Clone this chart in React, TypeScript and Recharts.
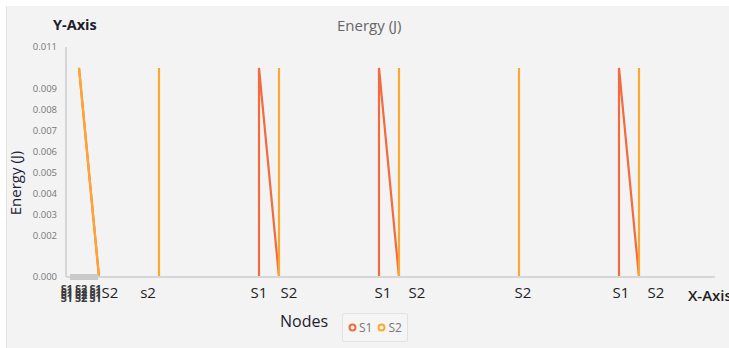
import { Line, LineChart, XAxis, YAxis } from "recharts";

// node positions (x) and energy values (J)
const s1X = [0, 1, 9, 9, 10, 15, 15, 16, 27, 27, 28, 31];
const s1Y = [0.01, 0, 0, 0.01, 0, 0, 0.01, 0, 0, 0.01, 0, 0];

const s2X = [0, 1, 4, 4, 4, 10, 10, 10, 16, 16, 16, 22, 22, 22, 28, 28, 28, 31];
const s2Y = [0.01, 0, 0, 0.01, 0, 0, 0.01, 0, 0, 0.01, 0, 0, 0.01, 0, 0, 0.01, 0, 0];

const xTickPos = [0.1, 1.55, 3.45, 9, 10.5, 15.2, 16.9, 22.2, 27.1, 28.85];
const xTickLabels = ["S1 S2 S1", "S2", "s2", "S1", "S2", "S1", "S2", "S2", "S1", "S2"];
const yTicks = [0, 0.002, 0.003, 0.004, 0.005, 0.006, 0.007, 0.008, 0.009, 0.011];

const seriesNames = ["S1", "S2"];
const seriesColors = ["#f26a3d", "#ffa62e"];

const FONT = "'Open Sans', 'Noto Sans', sans-serif";

const s1Data = s1X.map((x, i) => ({ x, y: s1Y[i] }));
const s2Data = s2X.map((x, i) => ({ x, y: s2Y[i] }));

function NodeTick(props: any) {
  const { x, y, payload } = props;
  const label = xTickLabels[payload.index] ?? "";
  if (payload.index === 0) {
    // the first node labels overlap into an unreadable block
    return (
      <g>
        <rect x={x - 11} y={y - 11} width={28} height={6} fill="#c9c9c9" />
        {[0, 3, 6, 9].map((d) => (
          <text key={d} x={x} y={y + 8 + d} textAnchor="middle" fontSize={11} fontWeight={700}
            fontFamily={FONT} fill="#3c3c3c" letterSpacing={-0.3}>
            {label}
          </text>
        ))}
      </g>
    );
  }
  return (
    <text x={x} y={y + 13} textAnchor="middle" fontSize={15} fontFamily={FONT} fill="#1f1f1f">
      {label}
    </text>
  );
}

function LegendBox() {
  return (
    <div style={{ display: "flex", alignItems: "center", gap: 5, padding: "5px 5px", border: "1px solid #e2e2e2",
      borderRadius: 2, background: "#f5f5f5", fontFamily: FONT, fontSize: 12, color: "#777" }}>
      {seriesNames.map((n, i) => (
        <span key={n} style={{ display: "flex", alignItems: "center", gap: 2 }}>
          <svg width={9} height={9}>
            <circle cx={4.5} cy={4.5} r={3} fill="none" stroke={seriesColors[i]} strokeWidth={2} />
          </svg>
          {n}
        </span>
      ))}
    </div>
  );
}

export default function App() {
  return (
    <div style={{ position: "relative", width: 729, height: 348, background: "#fff", overflow: "hidden" }}>
      <style>{"body{margin:0}"}</style>
      <div style={{ position: "absolute", left: 6, top: 6, right: 0, bottom: 0, background: "#f3f3f3",
        borderLeft: "1px solid #e3e3e3" }} />
      <div style={{ position: "absolute", left: 53, top: 15, fontFamily: FONT, fontSize: 14.5, fontWeight: 700, color: "#1d1d2b" }}>
        Y-Axis
      </div>
      <div style={{ position: "absolute", left: 337, top: 15, fontFamily: FONT, fontSize: 15, color: "#666" }}>
        Energy (J)
      </div>
      <div style={{ position: "absolute", left: 15, top: 183, transform: "translate(-50%, -50%) rotate(-90deg)",
        fontFamily: FONT, fontSize: 15, color: "#1d1d3a", whiteSpace: "nowrap" }}>
        Energy (J)
      </div>
      <div style={{ position: "absolute", left: 0, top: 0 }}>
        <LineChart width={729} height={348} margin={{ top: 47, right: 14, bottom: 41, left: 8 }}>
          <XAxis type="number" dataKey="x" domain={[-0.65, 31.8]} ticks={xTickPos} interval={0}
            tick={<NodeTick />} tickLine={false} axisLine={{ stroke: "#d6d6d6", strokeWidth: 2 }} height={30} />
          <YAxis type="number" domain={[0, 0.011]} ticks={yTicks} interval={0} width={58}
            tickFormatter={(v: number) => v.toFixed(3)} tickLine={false} tickSize={6} tickMargin={3}
            tick={{ fontSize: 9.5, fill: "#777", fontFamily: FONT }} axisLine={{ stroke: "#d6d6d6", strokeWidth: 2 }} />
          <Line data={s1Data} dataKey="y" name="S1" type="linear" stroke={seriesColors[0]} strokeWidth={2.2}
            dot={false} isAnimationActive={false} />
          <Line data={s2Data} dataKey="y" name="S2" type="linear" stroke={seriesColors[1]} strokeWidth={2.2}
            dot={false} isAnimationActive={false} />
        </LineChart>
      </div>
      <div style={{ position: "absolute", left: 688, top: 285, fontFamily: FONT, fontSize: 15, fontWeight: 600, color: "#1f1f1f", whiteSpace: "nowrap" }}>
        X-Axis
      </div>
      <div style={{ position: "absolute", left: 280, top: 310, fontFamily: FONT, fontSize: 16, color: "#1d1d2b" }}>
        Nodes
      </div>
      <div style={{ position: "absolute", left: 342, top: 313 }}>
        <LegendBox />
      </div>
    </div>
  );
}
